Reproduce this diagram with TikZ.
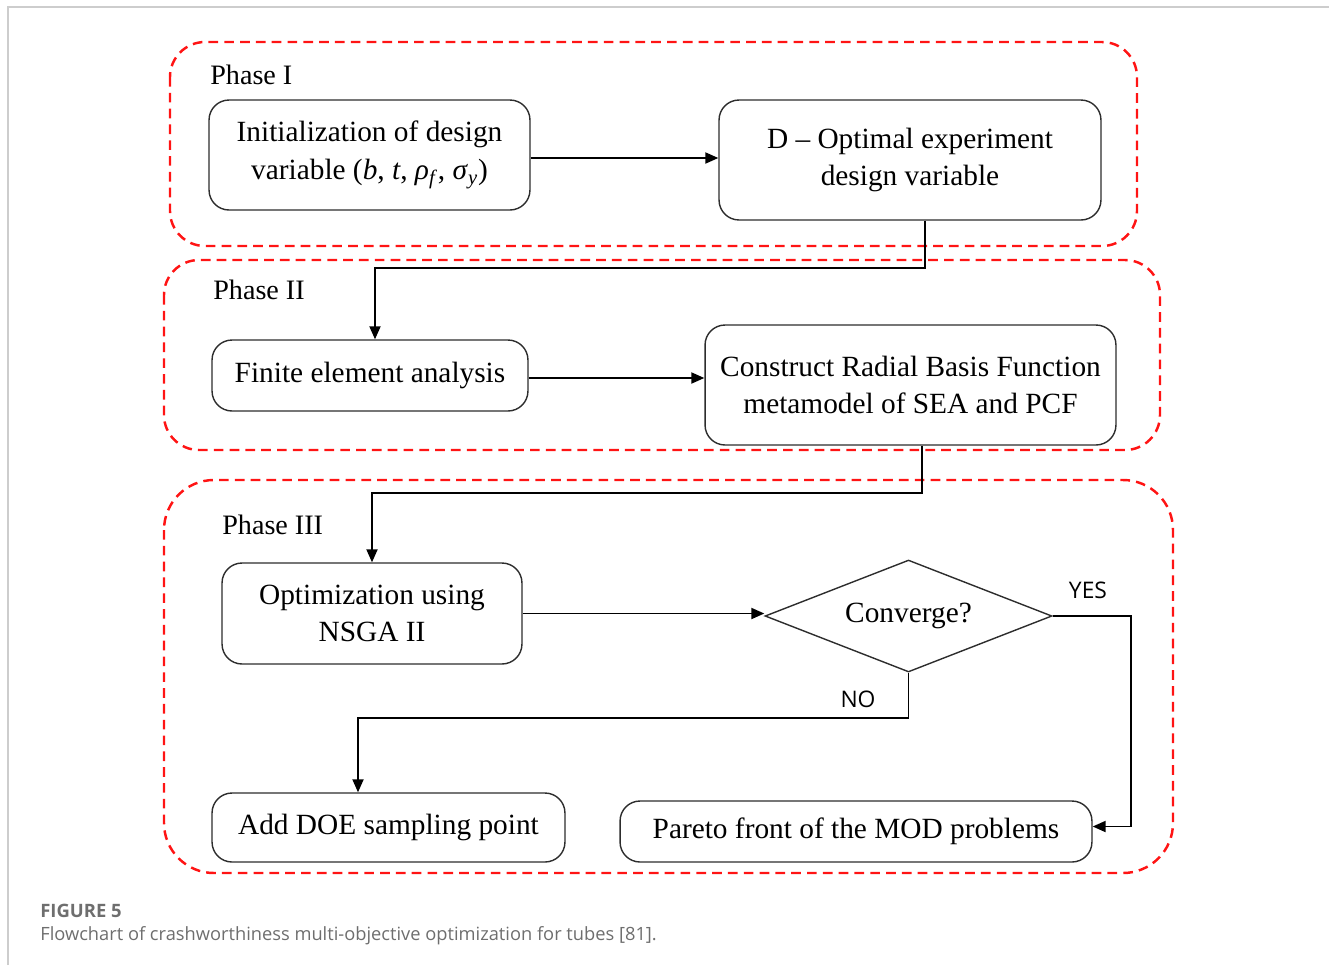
\documentclass[tikz,border=0pt]{standalone}
\usepackage{fontspec}
\usepackage{tikz}
\usetikzlibrary{shapes.geometric, arrows.meta, positioning, calc}
\setmainfont{Liberation Serif}
\newfontfamily\capfont{Open Sans}
\definecolor{phasecolor}{RGB}{255,20,20}
\definecolor{framecolor}{RGB}{205,205,205}
\definecolor{captioncolor}{RGB}{110,110,110}
\definecolor{boxline}{RGB}{45,45,45}

\begin{document}
\begin{tikzpicture}[
    x=0.02cm, y=-0.02cm,
    box/.style={draw=boxline, line width=0.8pt, rounded corners=0.4cm, align=center, inner sep=0pt, font=\fontsize{16.7}{21.5}\selectfont},
    decision/.style={draw=boxline, line width=0.8pt, diamond, aspect=2.56, inner sep=0pt, minimum width=5.74cm, minimum height=2.24cm, font=\fontsize{16.7}{21.5}\selectfont},
    phase/.style={draw=phasecolor, line width=1.4pt, dash pattern=on 5.5pt off 3.5pt},
    phaselabel/.style={anchor=west, inner sep=0pt, font=\fontsize{16}{18}\selectfont},
    answer/.style={inner sep=0pt, font=\capfont\fontsize{13}{15}\selectfont},
    arrow/.style={-{Triangle[length=2.6mm, width=2.2mm]}, line width=1.1pt}
]
    \useasboundingbox (0,0) rectangle (1329,965);

    % Page frame
    \draw[framecolor, line width=1.2pt] (8,965) -- (8,7) -- (1329,7);

    % Phase frames
    \draw[phase, rounded corners=0.7cm] (170,42) rectangle (1137,246);
    \draw[phase, rounded corners=0.7cm] (164,260) rectangle (1160,450);
    \draw[phase, rounded corners=1cm] (164,480) rectangle (1173,873);
    \node[phaselabel] (phaseone) at (210,75) {Phase I};
    \node[phaselabel] (phasetwo) at (213,290) {Phase II};
    \node[phaselabel] (phasethree) at (222,525) {Phase III};

    % Phase I
    \node[box, minimum width=6.42cm, minimum height=2.2cm] (init) at (369.5,155) {Initialization of design\\variable (\textit{b}, \textit{t}, \textit{ρ}\textsubscript{\textit{f}}, \textit{σ}\textsubscript{\textit{y}})};
    \node[box, minimum width=7.64cm, minimum height=2.4cm] (doptimal) at (910,160) {D -- Optimal experiment\\design variable};

    % Phase II
    \node[box, minimum width=6.32cm, minimum height=1.42cm] (fea) at (370,375.5) {Finite element analysis};
    \node[box, minimum width=8.22cm, minimum height=2.4cm] (rbf) at (910.5,385) {Construct Radial Basis Function\\metamodel of SEA and PCF};

    % Phase III
    \node[box, minimum width=6cm, minimum height=2.02cm] (nsga) at (372,613.5) {Optimization using\\NSGA II};
    \node[decision] (converge) at (908.5,616) {Converge?};
    \node[box, minimum width=7.06cm, minimum height=1.38cm] (adddoe) at (388.5,827.5) {Add DOE sampling point};
    \node[box, minimum width=9.44cm, minimum height=1.22cm] (pareto) at (856,831.5) {Pareto front of the MOD problems};
    \node[answer] (yes) at (1088,590) {YES};
    \node[answer] (no) at (858,699) {NO};

    % Arrows
    \draw[arrow] (init.east |- 0,158) -- (doptimal.west |- 0,158);
    \draw[arrow] ([xshift=0.3cm]doptimal.south) -- ++(0,47) -| ([xshift=0.1cm]fea.north);
    \draw[arrow] (fea.east |- 0,378) -- (rbf.west |- 0,378);
    \draw[arrow] ([xshift=0.23cm]rbf.south) -- ++(0,47) -| (nsga.north);
    \draw[arrow] (nsga.east) -- (nsga.east -| converge.west);
    \draw[arrow] (converge.east) -- ++(78,0) |- ([yshift=0.1cm]pareto.east);
    \draw[arrow] (converge.south) -- ++(0,45) -| ([xshift=-0.61cm]adddoe.north);

    % Caption
    \node[anchor=west, inner sep=0pt, text=captioncolor, font=\capfont\fontsize{10.5}{12}\selectfont\bfseries] (figlabel) at (40,911) {FIGURE 5};
    \node[anchor=west, inner sep=0pt, text=captioncolor, font=\capfont\fontsize{10.4}{12}\selectfont] (figcaption) at (40,936) {Flowchart of crashworthiness multi-objective optimization for tubes [81].};
\end{tikzpicture}
\end{document}
